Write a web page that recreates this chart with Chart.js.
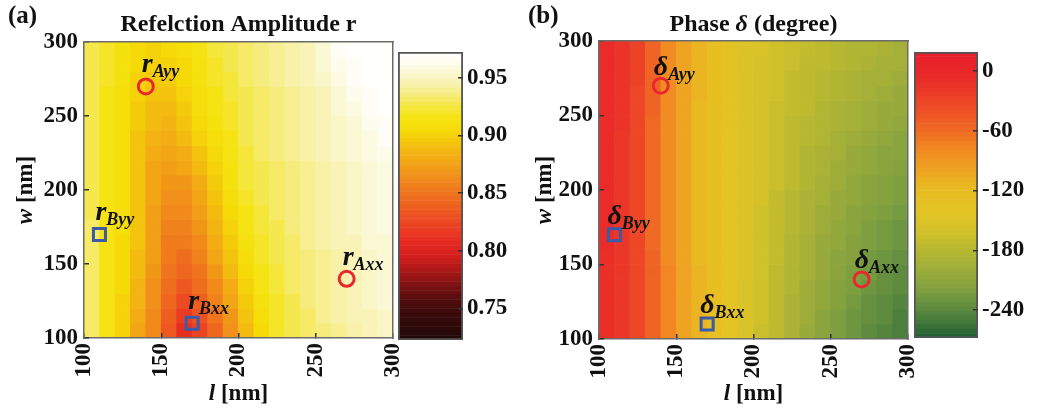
<!DOCTYPE html>
<html>
<head>
<meta charset="utf-8">
<title>Reflection amplitude and phase maps</title>
<script src="https://cdn.jsdelivr.net/npm/chart.js@4.4.1/dist/chart.umd.min.js"></script>
<style>
  html, body { margin: 0; padding: 0; background: #fff; }
  #fig { position: relative; width: 1039px; height: 412px; overflow: hidden; }
  .panel { position: absolute; top: 0; height: 412px; }
</style>
</head>
<body>
<div id="fig">
  <div class="panel" style="left:0;width:412px"><canvas id="ampMap"></canvas></div>
  <div class="panel" style="left:396px;width:119px"><canvas id="ampBar"></canvas></div>
  <div class="panel" style="left:515px;width:412px"><canvas id="phaseMap"></canvas></div>
  <div class="panel" style="left:911px;width:128px"><canvas id="phaseBar"></canvas></div>
</div>
<script>
const FONT = "'Liberation Serif', 'Times New Roman', serif";
Chart.defaults.font.family = FONT;
Chart.defaults.color = '#111';

// cell centres in nm (w rows listed from the top of the map down)
const lCenters = [105, 115, 125, 135, 145, 155, 165, 175, 185, 195, 205, 215, 225, 235, 245, 255, 265, 275, 285, 295];
const wCenters = [295, 285, 275, 265, 255, 245, 235, 225, 215, 205, 195, 185, 175, 165, 155, 145, 135, 125, 115, 105];
const axisTicks = [100, 150, 200, 250, 300];

// reflection amplitude r, in %, one row per wCenters entry
const ampRows = [
  [92.8, 91.8, 91.2, 90.5, 90.2, 90.3, 90.8, 91.5, 92.2, 92.8, 93.2, 93.6, 94.0, 94.4, 94.8, 95.6, 96.5, 97.0, 97.2, 97.2],
  [92.8, 91.8, 91.1, 90.3, 89.9, 90.0, 90.6, 91.3, 92.0, 92.6, 93.1, 93.5, 93.9, 94.3, 94.7, 95.3, 96.1, 96.8, 97.1, 97.2],
  [92.8, 91.8, 91.0, 90.1, 89.6, 89.7, 90.3, 91.1, 91.8, 92.4, 93.0, 93.4, 93.8, 94.2, 94.6, 95.1, 95.8, 96.5, 97.0, 97.2],
  [92.8, 91.7, 90.9, 89.9, 89.3, 89.4, 90.0, 90.9, 91.6, 92.3, 92.9, 93.3, 93.7, 94.1, 94.5, 94.9, 95.5, 96.2, 96.8, 97.1],
  [92.8, 91.7, 90.8, 89.7, 89.0, 89.0, 89.6, 90.7, 91.4, 92.1, 92.8, 93.2, 93.6, 94.0, 94.4, 94.8, 95.3, 95.8, 96.5, 97.0],
  [92.8, 91.7, 90.7, 89.5, 88.7, 88.6, 89.2, 90.4, 91.1, 91.9, 92.7, 93.2, 93.6, 94.0, 94.4, 94.8, 95.2, 95.6, 96.2, 96.7],
  [92.8, 91.7, 90.7, 89.4, 88.4, 88.2, 88.7, 89.9, 90.8, 91.7, 92.6, 93.1, 93.5, 93.9, 94.3, 94.7, 95.1, 95.4, 95.9, 96.5],
  [92.8, 91.7, 90.7, 89.3, 88.0, 87.7, 88.0, 89.3, 90.4, 91.5, 92.5, 93.0, 93.4, 93.8, 94.2, 94.6, 95.0, 95.3, 95.7, 96.1],
  [92.8, 91.6, 90.7, 89.3, 87.8, 87.3, 87.5, 88.8, 90.0, 91.3, 92.4, 92.9, 93.3, 93.7, 94.1, 94.5, 94.9, 95.2, 95.6, 96.0],
  [92.8, 91.6, 90.8, 89.3, 87.6, 87.0, 87.0, 88.2, 89.7, 91.1, 92.2, 92.8, 93.2, 93.6, 94.0, 94.4, 94.7, 95.1, 95.5, 95.9],
  [92.8, 91.6, 90.8, 89.3, 87.5, 86.6, 86.6, 87.8, 89.3, 90.8, 92.0, 92.7, 93.1, 93.6, 94.0, 94.4, 94.7, 95.1, 95.5, 95.8],
  [92.9, 91.6, 90.7, 89.2, 87.4, 86.3, 86.1, 87.3, 88.8, 90.4, 91.7, 92.5, 93.0, 93.5, 93.9, 94.3, 94.6, 95.0, 95.4, 95.7],
  [93.0, 91.6, 90.7, 89.2, 87.3, 85.9, 85.7, 86.8, 88.4, 90.0, 91.4, 92.3, 92.9, 93.4, 93.9, 94.3, 94.6, 95.0, 95.4, 95.7],
  [93.1, 91.6, 90.6, 89.1, 87.2, 85.5, 85.2, 86.3, 88.0, 89.6, 91.0, 92.1, 92.7, 93.3, 93.8, 94.2, 94.6, 94.9, 95.3, 95.6],
  [93.2, 91.6, 90.5, 89.0, 87.1, 85.2, 84.7, 85.8, 87.5, 89.2, 90.7, 91.9, 92.6, 93.2, 93.7, 94.1, 94.5, 94.8, 95.2, 95.5],
  [93.2, 91.6, 90.4, 88.9, 86.9, 84.8, 84.1, 85.1, 87.0, 88.7, 90.3, 91.7, 92.4, 93.1, 93.6, 94.1, 94.5, 94.8, 95.2, 95.5],
  [93.2, 91.6, 90.3, 88.6, 86.7, 84.5, 83.4, 84.4, 86.3, 88.2, 89.9, 91.4, 92.3, 93.0, 93.5, 94.0, 94.4, 94.7, 95.1, 95.4],
  [93.2, 91.6, 90.2, 88.3, 86.4, 84.2, 82.6, 83.6, 85.6, 87.6, 89.5, 91.1, 92.1, 92.9, 93.4, 93.9, 94.3, 94.6, 95.0, 95.3],
  [93.2, 91.6, 90.1, 88.0, 86.2, 83.8, 81.9, 82.9, 84.9, 87.0, 89.2, 90.8, 92.0, 92.7, 93.3, 93.8, 94.2, 94.6, 94.9, 95.2],
  [93.2, 91.6, 90.0, 87.7, 86.0, 83.5, 81.2, 82.2, 84.3, 86.5, 88.8, 90.5, 91.8, 92.6, 93.2, 93.7, 94.1, 94.5, 94.8, 95.1]
];

// phase delta in degrees, same layout
const phaseRows = [
  [-6, -14, -30, -55, -80, -100, -115, -126, -136, -147, -155, -162, -168, -172, -176, -180, -184, -187, -190, -192],
  [-6, -14, -30, -55, -80, -100, -115, -126, -136, -147, -156, -163, -169, -174, -178, -182, -186, -190, -193, -195],
  [-6, -14, -30, -55, -80, -100, -115, -126, -136, -147, -156, -164, -170, -175, -180, -184, -189, -192, -196, -198],
  [-6, -15, -31, -56, -80, -101, -115, -126, -136, -147, -157, -164, -171, -177, -182, -187, -191, -195, -199, -201],
  [-6, -15, -32, -57, -81, -101, -116, -126, -137, -148, -157, -165, -173, -178, -184, -189, -194, -198, -201, -204],
  [-7, -16, -33, -58, -81, -102, -116, -127, -137, -148, -158, -166, -174, -180, -185, -191, -196, -200, -204, -207],
  [-7, -17, -34, -59, -82, -102, -117, -127, -138, -150, -158, -167, -175, -181, -187, -193, -199, -203, -207, -210],
  [-7, -17, -34, -59, -82, -102, -117, -127, -138, -150, -159, -168, -176, -183, -189, -195, -201, -206, -210, -213],
  [-7, -17, -34, -59, -82, -102, -117, -127, -138, -150, -159, -168, -177, -185, -191, -198, -203, -208, -213, -216],
  [-7, -17, -34, -59, -82, -102, -117, -127, -138, -150, -160, -169, -178, -186, -193, -200, -206, -211, -216, -219],
  [-7, -17, -34, -59, -82, -102, -117, -127, -138, -150, -160, -170, -180, -188, -195, -202, -208, -214, -218, -223],
  [-7, -17, -34, -59, -82, -102, -117, -127, -138, -150, -161, -171, -181, -189, -197, -204, -211, -217, -221, -226],
  [-7, -17, -34, -59, -82, -102, -117, -127, -138, -150, -161, -171, -182, -191, -199, -207, -213, -219, -224, -229],
  [-7, -17, -33, -58, -81, -101, -116, -127, -138, -150, -162, -172, -183, -193, -201, -209, -215, -222, -227, -232],
  [-8, -17, -33, -57, -80, -100, -116, -126, -138, -151, -162, -173, -184, -194, -203, -211, -218, -225, -230, -235],
  [-8, -17, -32, -56, -79, -99, -115, -126, -139, -151, -163, -174, -185, -196, -204, -213, -220, -227, -233, -238],
  [-8, -17, -32, -55, -77, -98, -114, -126, -139, -152, -163, -175, -187, -197, -206, -215, -223, -230, -235, -241],
  [-8, -17, -32, -55, -77, -98, -114, -126, -139, -152, -164, -175, -188, -199, -208, -218, -225, -233, -238, -244],
  [-8, -17, -32, -55, -77, -98, -114, -126, -139, -152, -164, -176, -189, -200, -210, -220, -228, -235, -241, -247],
  [-8, -17, -32, -55, -77, -98, -114, -126, -139, -152, -165, -177, -190, -202, -212, -222, -230, -238, -244, -250]
];

const ampTicks = [0.75, 0.80, 0.85, 0.90, 0.95];
const ampRange = [0.7225, 0.9725];
const phaseTicks = [0, -60, -120, -180, -240];
const phaseRange = [-268, 19];

// marked structures
const markerNames = ['Ayy', 'Axx', 'Byy', 'Bxx'];
const markerL = [140, 270, 110, 170];
const markerW = [270, 140, 170, 110];

// colour maps
const ampStops = [0.7225, 0.745, 0.755, 0.765, 0.775, 0.785, 0.795, 0.805, 0.815, 0.825, 0.835, 0.845,
  0.855, 0.865, 0.875, 0.885, 0.895, 0.905, 0.915, 0.925, 0.935, 0.945, 0.955, 0.965, 0.9725];
const ampColors = ['#200808', '#3a0a0a', '#4e0c0c', '#6c1010', '#901414', '#b41818', '#d21e1c', '#e42620',
  '#e93622', '#ec4822', '#ee5a20', '#ef6c1e', '#f07e1c', '#f1901a', '#f2a216', '#f3b412', '#f4c80c',
  '#f5dc06', '#f5e310', '#f5e640', '#f6ec7c', '#f8f2b0', '#fbf8d6', '#fefef4', '#ffffff'];
const phaseStops = [-268, -255, -240, -220, -200, -180, -160, -140, -120, -100, -80, -60, -40, -20, 0, 19];
const phaseColors = ['#1e5c32', '#3c7438', '#5c8a3e', '#80a040', '#9cac3a', '#b8b832', '#d4c22a', '#e4c424',
  '#e8bc22', '#eea422', '#f18a22', '#f06a24', '#ee5026', '#eb3828', '#e9262a', '#e81e2a'];

const LEVELS = 64;

function hexRgb(h) { return [1, 3, 5].map(i => parseInt(h.slice(i, i + 2), 16)); }

function colormap(stops, colors) {
  const rgb = colors.map(hexRgb);
  return v => {
    let i = 0;
    while (i < stops.length - 2 && v > stops[i + 1]) i++;
    const t = Math.min(1, Math.max(0, (v - stops[i]) / (stops[i + 1] - stops[i])));
    const c = rgb[i].map((a, k) => Math.round(a + (rgb[i + 1][k] - a) * t));
    return `rgb(${c[0]},${c[1]},${c[2]})`;
  };
}

function makeLevels(range, cmap) {
  const step = (range[1] - range[0]) / LEVELS;
  const levels = [];
  for (let k = 0; k < LEVELS; k++) {
    const lo = range[0] + k * step;
    levels.push({ lo, hi: lo + step, color: cmap(lo + step / 2) });
  }
  const colorOf = v => levels[Math.min(LEVELS - 1, Math.max(0, Math.floor((v - range[0]) / step)))].color;
  return { levels, colorOf };
}

const ampLv = makeLevels(ampRange, colormap(ampStops, ampColors));
const phaseLv = makeLevels(phaseRange, colormap(phaseStops, phaseColors));

// text with mixed bold / italic runs
const B = s => `bold ${s}px ${FONT}`;
const BI = s => `italic bold ${s}px ${FONT}`;

function runsText(ctx, runs, x, y, align, rot) {
  ctx.save();
  ctx.translate(x, y);
  if (rot) ctx.rotate(rot);
  ctx.fillStyle = '#111';
  ctx.textBaseline = 'alphabetic';
  ctx.textAlign = 'left';
  let total = 0;
  runs.forEach(r => { ctx.font = r.f; r.w = ctx.measureText(r.t).width; total += r.w; });
  let cx = align === 'center' ? -total / 2 : 0;
  runs.forEach(r => { ctx.font = r.f; ctx.fillText(r.t, cx, r.dy || 0); cx += r.w; });
  ctx.restore();
}

function textPlugin(cfg) {
  return {
    id: 'text' + cfg.sym,
    afterDraw(chart) {
      const { ctx, chartArea: a, scales: { x, y } } = chart;
      const cx = (a.left + a.right) / 2;
      runsText(ctx, [{ t: cfg.tag, f: B(25) }], cfg.tagX, 23);
      runsText(ctx, cfg.title, cx, 31, 'center');
      runsText(ctx, [{ t: 'w', f: BI(23) }, { t: ' [nm]', f: B(23) }], cfg.wTitleX, (a.top + a.bottom) / 2, 'center', -Math.PI / 2);
      runsText(ctx, [{ t: 'l', f: BI(23) }, { t: ' [nm]', f: B(23) }], cx, 400, 'center');
      markerNames.forEach((name, i) => {
        const px = x.getPixelForValue(markerL[i]) + cfg.dx;
        const py = y.getPixelForValue(markerW[i]) + cfg.dy;
        runsText(ctx, [{ t: cfg.sym, f: BI(28) }, { t: name, f: BI(18), dy: 5 }], px, py);
      });
    }
  };
}

const tickFont = { size: 23, weight: 'bold' };
const frame = { color: '#6b6b6b', width: 1.5, z: 1 };
const setTicks = vals => s => { s.ticks = vals.map(v => ({ value: v })); };

function mapChart(id, rows, toValue, lv, cfg) {
  const halfW = (wCenters[0] - wCenters[1]) / 2;
  const cells = wCenters.map((w, i) => ({
    type: 'bar',
    data: lCenters.map(l => ({ x: l, y: [w - halfW, w + halfW] })),
    backgroundColor: rows[i].map(v => lv.colorOf(toValue(v))),
    borderWidth: 0, grouped: false, barPercentage: 1, categoryPercentage: 1, order: 2
  }));
  const pts = idx => idx.map(i => ({ x: markerL[i], y: markerW[i] }));
  const markers = [
    { type: 'scatter', data: pts([0, 1]), pointStyle: 'circle', pointRadius: 7.5, pointBorderWidth: 3,
      pointBorderColor: '#e8282c', pointBackgroundColor: 'rgba(0,0,0,0)', order: 0 },
    { type: 'scatter', data: pts([2, 3]), pointStyle: 'rect', pointRadius: 8.5, pointBorderWidth: 3,
      pointBorderColor: '#3c5aa6', pointBackgroundColor: 'rgba(0,0,0,0)', order: 0 }
  ];
  const side = (pos, extra) => Object.assign({
    type: 'linear', position: pos, min: 100, max: 300, offset: false, border: frame
  }, extra);
  return new Chart(document.getElementById(id), {
    type: 'bar',
    data: { datasets: [...markers, ...cells] },
    options: {
      animation: false, responsive: true, maintainAspectRatio: false, events: [],
      layout: { padding: { left: 0, right: 19, top: cfg.top, bottom: 0 } },
      plugins: { legend: { display: false }, tooltip: { enabled: false } },
      scales: {
        x: side('bottom', {
          afterBuildTicks: setTicks(axisTicks),
          ticks: { font: tickFont, color: '#111', minRotation: 90, maxRotation: 90, padding: 10, autoSkip: false },
          grid: { offset: false, drawOnChartArea: false, tickLength: -5, color: '#333', lineWidth: 1.5, z: 1 },
          afterFit: s => { s.height = cfg.bottom; s.paddingLeft = 0; s.paddingRight = 0; }
        }),
        y: side('left', {
          afterBuildTicks: setTicks(axisTicks),
          ticks: { font: tickFont, color: '#111', padding: 11 },
          grid: { drawOnChartArea: false, tickLength: -5, color: '#333', lineWidth: 1.5, z: 1 },
          afterFit: s => { s.width = 84; s.paddingTop = 0; s.paddingBottom = 0; }
        }),
        x2: side('top', { display: true, ticks: { display: false }, grid: { display: false },
          afterFit: s => { s.height = 0; } }),
        y2: side('right', { display: true, ticks: { display: false }, grid: { display: false },
          afterFit: s => { s.width = 0; } })
      }
    },
    plugins: [textPlugin(cfg)]
  });
}

function barChart(id, range, ticks, fmt, lv, pad, axisW) {
  const datasets = lv.levels.map(s => ({ data: [[s.lo, s.hi]], backgroundColor: s.color, borderWidth: 0 }));
  datasets.unshift({ data: [range], backgroundColor: 'rgba(0,0,0,0)', borderColor: '#555',
    borderWidth: 1.5, borderSkipped: false });
  return new Chart(document.getElementById(id), {
    type: 'bar',
    data: { labels: [''], datasets },
    options: {
      animation: false, responsive: true, maintainAspectRatio: false, events: [],
      layout: { padding: pad },
      datasets: { bar: { grouped: false, barPercentage: 1, categoryPercentage: 1 } },
      plugins: { legend: { display: false }, tooltip: { enabled: false } },
      scales: {
        x: { display: false },
        y: {
          position: 'right', min: range[0], max: range[1],
          afterBuildTicks: setTicks(ticks),
          ticks: { font: tickFont, color: '#111', padding: 9, callback: fmt },
          grid: { drawOnChartArea: false, tickLength: -5, color: '#333', lineWidth: 1.5, z: 1 },
          border: { display: false },
          afterFit: s => { s.width = axisW; }
        }
      }
    }
  });
}

mapChart('ampMap', ampRows, v => v / 100, ampLv, {
  top: 42, bottom: 74, tag: '(a)', tagX: 8, wTitleX: 32, sym: 'r', dx: -4, dy: -14,
  title: [{ t: 'Refelction Amplitude r', f: B(24) }]
});
barChart('ampBar', ampRange, ampTicks, v => v.toFixed(2), ampLv, { left: 2, top: 52, bottom: 72, right: 0 }, 52);

mapChart('phaseMap', phaseRows, v => v, phaseLv, {
  top: 41, bottom: 73, tag: '(b)', tagX: 13, wTitleX: 36, sym: 'δ', dx: -7, dy: -11,
  title: [{ t: 'Phase ', f: B(24) }, { t: 'δ', f: BI(24) }, { t: ' (degree)', f: B(24) }]
});
barChart('phaseBar', phaseRange, phaseTicks, v => String(v), phaseLv, { left: 3, top: 52, bottom: 74, right: 0 }, 61);
</script>
</body>
</html>
